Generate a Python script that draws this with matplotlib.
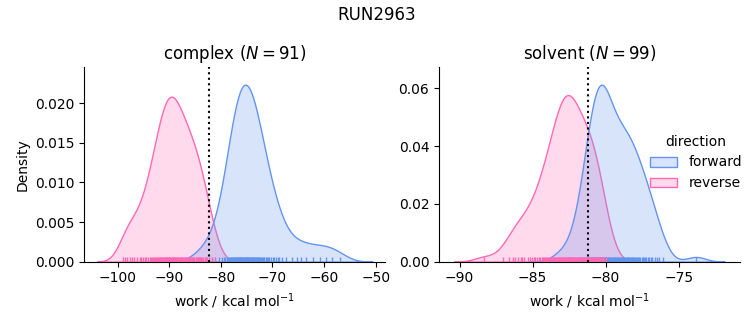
import matplotlib
matplotlib.use("Agg")
import matplotlib.pyplot as plt
from matplotlib.ticker import MultipleLocator
import pandas as pd
import seaborn as sns

run_name = "RUN2963"
phases = ["complex", "solvent"]
directions = ["forward", "reverse"]

complex_forward = [
    -84.3, -82.9, -81.8, -81.2, -80.4, -79.7,
    -79.4, -79.1, -78.8, -78.6,
    -78.45, -78.3, -78.1, -77.95, -77.8, -77.65, -77.55,
    -77.45, -77.35, -77.2, -77.1, -77.0, -76.9, -76.8, -76.7, -76.6, -76.55,
    -76.45, -76.35, -76.25, -76.15, -76.0, -75.9, -75.8, -75.7, -75.6,
    -75.45, -75.4, -75.3, -75.2, -75.1, -75.0, -74.9, -74.8, -74.7, -74.6, -74.55,
    -74.4, -74.3, -74.2, -74.05, -73.95, -73.85, -73.75, -73.65, -73.55,
    -73.4, -73.25, -73.1, -72.95, -72.85, -72.75, -72.6, -72.55,
    -72.4, -72.2, -72.0, -71.85, -71.7, -71.55,
    -71.3, -71.0, -70.8, -70.6, -70.3, -69.9, -69.6,
    -69.3, -69.0, -68.7, -68.2, -67.4, -66.3,
    -65.3, -64.4, -63.5, -62.1, -60.8, -59.7, -58.5, -56.9,
]
complex_reverse = [
    -98.9, -98.6, -98.2, -97.6, -97.3, -96.8, -96.3, -95.7,
    -95.4, -95.0, -94.6, -94.4, -94.1, -93.8, -93.6,
    -93.4, -93.2, -93.0, -92.8, -92.6,
    -92.45, -92.3, -92.15, -92.0, -91.85, -91.7, -91.55,
    -91.45, -91.3, -91.2, -91.05, -90.9, -90.8, -90.65, -90.55,
    -90.45, -90.35, -90.25, -90.1, -90.0, -89.9, -89.8, -89.7, -89.55,
    -89.45, -89.35, -89.25, -89.1, -89.0, -88.9, -88.8, -88.7, -88.55,
    -88.4, -88.25, -88.1, -87.95, -87.8, -87.7, -87.55,
    -87.45, -87.3, -87.15, -87.0, -86.85, -86.7, -86.55,
    -86.4, -86.25, -86.1, -85.9, -85.75, -85.6,
    -85.4, -85.25, -85.1, -84.9, -84.75, -84.6,
    -84.4, -84.2, -84.0, -83.8, -83.6,
    -83.4, -83.15, -82.9, -82.65, -82.3, -81.8, -81.2,
]
solvent_forward = [
    -83.2, -82.6, -82.2, -81.85,
    -81.7, -81.65, -81.6, -81.45, -81.35, -81.3,
    -81.22, -81.18, -81.14, -81.1, -81.05, -81.0, -80.96, -80.92, -80.87, -80.82, -80.78,
    -80.73, -80.7, -80.66, -80.62, -80.58, -80.55, -80.5, -80.46, -80.42, -80.4, -80.38,
    -80.36, -80.34, -80.3, -80.27,
    -80.23, -80.19, -80.15, -80.11, -80.07, -80.03, -79.98, -79.94, -79.9, -79.86, -79.82,
    -79.78,
    -79.72, -79.67, -79.62, -79.56, -79.5, -79.44, -79.38, -79.33, -79.28,
    -79.22, -79.17, -79.12, -79.06, -79.0, -78.94, -78.88, -78.83, -78.78,
    -78.72, -78.67, -78.62, -78.56, -78.5, -78.44, -78.38, -78.33, -78.28,
    -78.22, -78.16, -78.1, -78.03, -77.97, -77.9, -77.84, -77.78,
    -77.7, -77.62, -77.54, -77.46, -77.38, -77.3,
    -77.2, -77.1, -77.0, -76.9, -76.8, -76.65, -76.5, -76.35, -76.1,
    -73.8,
]
solvent_reverse = [
    -88.3, -87.0, -86.6, -86.35, -86.2, -86.0, -85.8,
    -85.7, -85.6, -85.3, -85.2, -85.05, -84.9, -84.8,
    -84.7, -84.54, -84.46, -84.38, -84.3,
    -84.22, -84.15, -84.08, -84.0, -83.92, -83.85, -83.78,
    -83.72, -83.67, -83.62, -83.56, -83.5, -83.44, -83.38, -83.33, -83.28,
    -83.22, -83.18, -83.14, -83.1, -83.05, -83.0, -82.96, -82.92, -82.9, -82.87, -82.82,
    -82.78,
    -82.72, -82.68, -82.64, -82.6, -82.58, -82.55, -82.52, -82.5, -82.46, -82.42, -82.37,
    -82.32, -82.28,
    -82.22, -82.17, -82.12, -82.07, -82.02, -81.97, -81.92, -81.87, -81.82, -81.78,
    -81.72, -81.67, -81.62, -81.56, -81.5, -81.44, -81.38, -81.33, -81.28,
    -81.22, -81.17, -81.12, -81.06, -81.0, -80.94, -80.88, -80.83, -80.78,
    -80.72, -80.66, -80.6, -80.54, -80.47, -80.4, -80.34, -80.28,
    -80.2, -80.1, -79.95,
]
# free energy estimates (dotted lines)
estimates = {"complex": -82.2, "solvent": -81.2}
xlims = {"complex": (-106.5, -48.2), "solvent": (-91.4, -70.8)}
ytick_steps = {"complex": 0.005, "solvent": 0.02}

works = {
    ("complex", "forward"): complex_forward,
    ("complex", "reverse"): complex_reverse,
    ("solvent", "forward"): solvent_forward,
    ("solvent", "reverse"): solvent_reverse,
}
rows = []
for (phase, direction), vals in works.items():
    for w in vals:
        rows.append({"phase": phase, "direction": direction, "work": w})
df = pd.DataFrame(rows)

palette = {"forward": "cornflowerblue", "reverse": "hotpink"}
g = sns.displot(data=df, x="work", col="phase", col_order=phases,
                hue="direction", hue_order=directions, palette=palette,
                kind="kde", fill=True, rug=True,
                facet_kws=dict(sharex=False, sharey=False))

fig = g.figure
fig.set_size_inches(7.53, 3.25)
fig.subplots_adjust(left=0.1116, right=0.9827, bottom=0.195, top=0.794, wspace=0.18)

for phase in phases:
    ax = g.axes_dict[phase]
    n = len(works[(phase, "forward")])
    ax.set_title(f"{phase} ($N={n}$)", fontsize=12)
    ax.axvline(estimates[phase], color="black", ls=":", lw=1.5)
    ax.set_xlim(*xlims[phase])
    ax.yaxis.set_major_locator(MultipleLocator(ytick_steps[phase]))
g.set_axis_labels("work / kcal mol$^{-1}$", "Density")

sns.move_legend(g, "center left", bbox_to_anchor=(0.846, 0.5), frameon=False)
fig.suptitle(run_name, fontsize=12)

fig.savefig("out.png", dpi=100)
